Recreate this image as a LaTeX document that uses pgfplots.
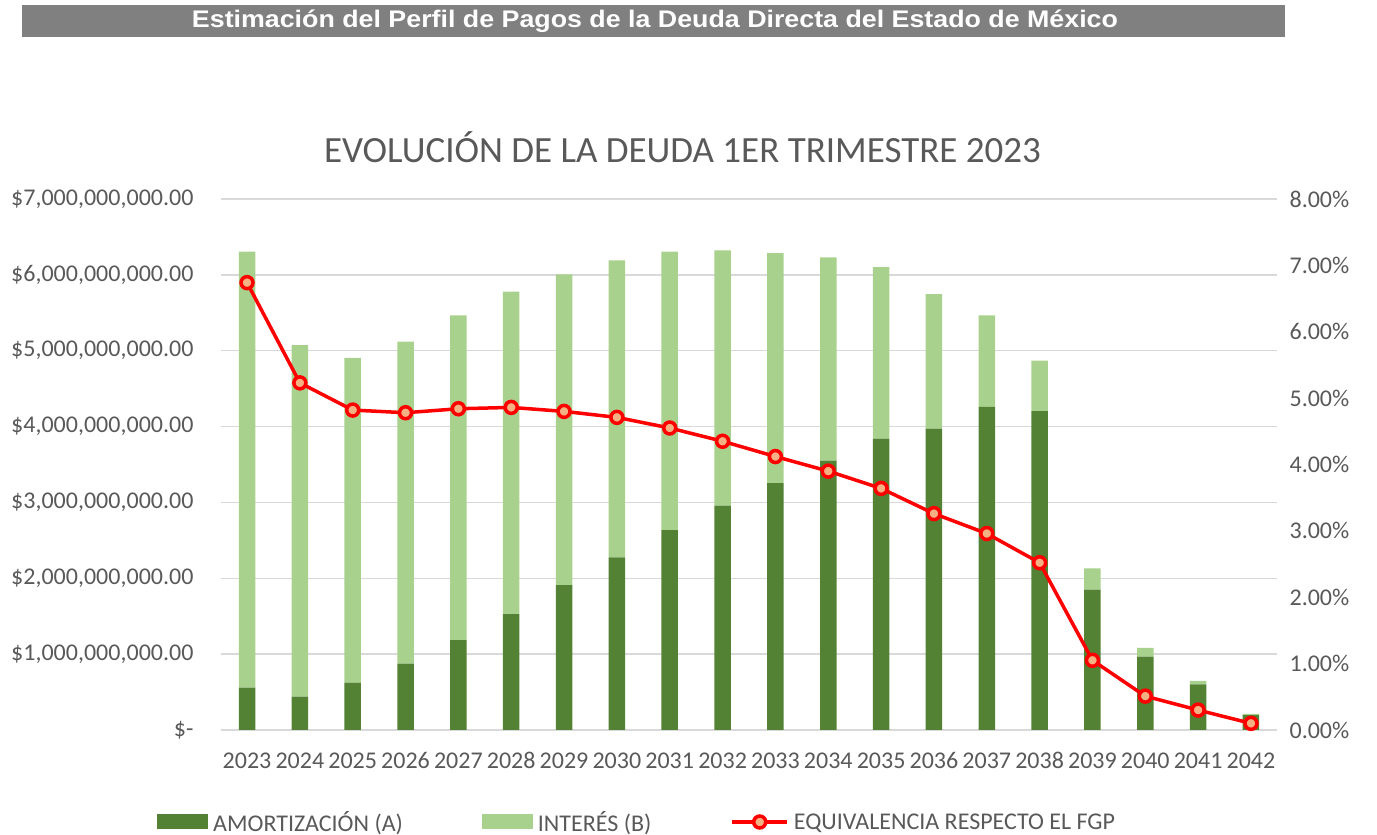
\documentclass[border=0pt]{standalone}
\usepackage{pgfplots}
\usepackage{pgfplotstable}
\usepackage{graphicx}
\pgfplotsset{compat=1.18}
\usepackage{fontspec}
\setmainfont{Carlito}
\newfontfamily\bannerfont{Liberation Sans}
\definecolor{darkg}{HTML}{548235}
\definecolor{lightg}{HTML}{A9D18E}
\definecolor{peach}{HTML}{F4B183}
\definecolor{gridc}{HTML}{D9D9D9}
\definecolor{txt}{HTML}{595959}
\definecolor{bannerc}{HTML}{808080}
\pgfplotsset{mylinelegend/.style={legend image code/.code={\draw[##1, mark=none] (0pt,0pt) -- (55pt,0pt); \path[##1] plot[only marks] coordinates {(27.5pt,0pt)};}}}

\pgfplotstableread{
x A B P
0 0.558 5.747 6.74
1 0.439 4.636 5.23
2 0.624 4.280 4.82
3 0.874 4.246 4.78
4 1.186 4.280 4.84
5 1.529 4.249 4.86
6 1.911 4.096 4.80
7 2.276 3.914 4.71
8 2.636 3.669 4.55
9 2.957 3.366 4.35
10 3.256 3.032 4.12
11 3.550 2.681 3.90
12 3.840 2.263 3.64
13 3.972 1.775 3.26
14 4.258 1.208 2.96
15 4.205 0.663 2.52
16 1.850 0.281 1.05
17 0.966 0.115 0.51
18 0.602 0.044 0.30
19 0.195 0.016 0.10
}\datatable

\begin{document}
\begin{tikzpicture}
\path[use as bounding box] (0,0) rectangle (1377pt,835pt);
\fill[bannerc] (22pt,798pt) rectangle (1285pt,830pt);
\node[text=white, font=\bannerfont\bfseries\fontsize{24}{28}\selectfont, inner sep=0pt] at (655pt,814pt) {\resizebox{926pt}{\height}{Estimación del Perfil de Pagos de la Deuda Directa del Estado de México}};
\node[text=txt, font=\fontsize{37}{42}\selectfont, inner sep=0pt] at (682.5pt,688pt) {EVOLUCIÓN DE LA DEUDA 1ER TRIMESTRE 2023};

\begin{axis}[
  scale only axis, width=1056.8pt, height=531pt,
  at={(220.6pt,105pt)}, anchor=south west,
  xmin=-0.5, xmax=19.5, ymin=0, ymax=7,
  ybar stacked, bar width=16.5pt,
  axis line style={draw=none}, major tick length=0pt,
  ymajorgrids, grid style={gridc, line width=1.5pt},
  xtick={0,1,2,3,4,5,6,7,8,9,10,11,12,13,14,15,16,17,18,19},
  xticklabels={2023,2024,2025,2026,2027,2028,2029,2030,2031,2032,2033,2034,2035,2036,2037,2038,2039,2040,2041,2042},
  ytick={0,1,2,3,4,5,6,7},
  yticklabels={{\$-\hspace{12pt}},{\$1,000,000,000.00},{\$2,000,000,000.00},{\$3,000,000,000.00},{\$4,000,000,000.00},{\$5,000,000,000.00},{\$6,000,000,000.00},{\$7,000,000,000.00}},
  tick label style={text=txt, font=\fontsize{24}{28}\selectfont},
  yticklabel style={inner sep=0pt, xshift=-27pt},
  xticklabel style={yshift=-19pt},
  legend columns=3,
  legend cell align=left,
  legend style={font=\fontsize{24}{28}\selectfont, text=txt, draw=none, fill=none,
    at={(axis description cs:0,0)}, anchor=west, xshift=-63.6pt, yshift=-92pt, inner sep=0pt,
    /tikz/every odd column/.append style={column sep=3pt},
    /tikz/every even column/.append style={column sep=77pt}},
]
\addplot[fill=darkg, draw=none, legend image code/.code={\fill[darkg] (0pt,-7.5pt) rectangle (51pt,7.5pt);}] table[x=x,y=A]{\datatable};
\addlegendentry{AMORTIZACIÓN (A)}
\addplot[fill=lightg, draw=none, legend image code/.code={\fill[lightg] (0pt,-7.5pt) rectangle (51pt,7.5pt);}] table[x=x,y=B]{\datatable};
\addlegendentry{INTERÉS (B)}
\addlegendimage{red, line width=3.5pt, mark=*, mark size=6pt, mark options={fill=peach, draw=red, line width=3.5pt}, mylinelegend}
\addlegendentry{EQUIVALENCIA RESPECTO EL FGP}
\end{axis}

\begin{axis}[
  scale only axis, width=1056.8pt, height=531pt,
  at={(220.6pt,105pt)}, anchor=south west,
  xmin=-0.5, xmax=19.5, ymin=0, ymax=8,
  axis y line*=right, hide x axis,
  axis line style={draw=none}, major tick length=0pt,
  ytick={0,1,2,3,4,5,6,7,8},
  yticklabels={{0.00\%},{1.00\%},{2.00\%},{3.00\%},{4.00\%},{5.00\%},{6.00\%},{7.00\%},{8.00\%}},
  tick label style={text=txt, font=\fontsize{24}{28}\selectfont},
  yticklabel style={inner sep=0pt, anchor=west, xshift=12pt},
]
\addplot[red, line width=3.5pt, mark=*, mark size=6pt, mark options={fill=peach, draw=red, line width=3.5pt}] table[x=x,y=P]{\datatable};
\end{axis}
\end{tikzpicture}
\end{document}
